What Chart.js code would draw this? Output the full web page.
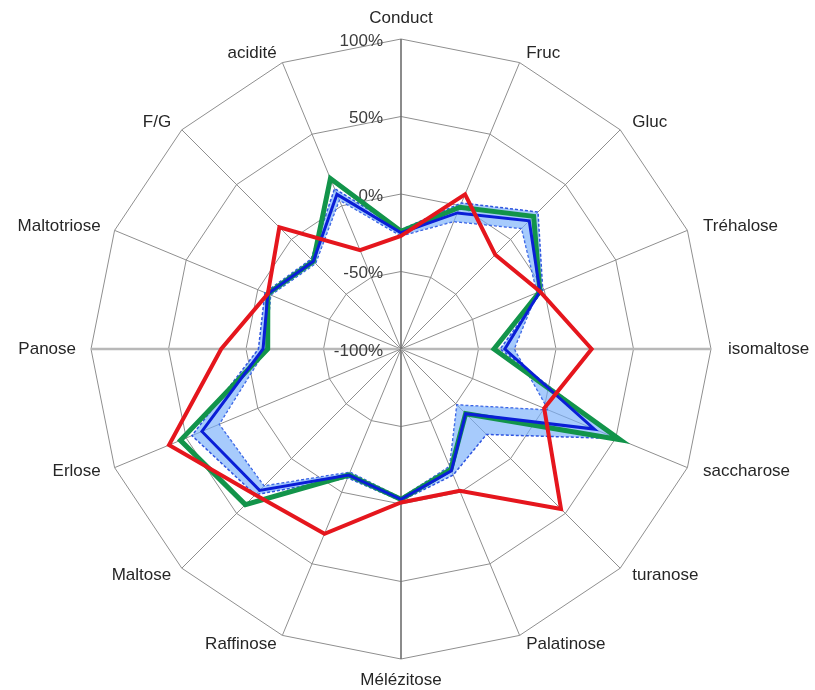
<!DOCTYPE html>
<html>
<head>
<meta charset="utf-8">
<script src="https://cdn.jsdelivr.net/npm/chart.js@4.4.1/dist/chart.umd.min.js"></script>
<style>
  html, body { margin: 0; padding: 0; background: #ffffff; }
  canvas { display: block; }
</style>
</head>
<body>
<canvas id="radar" width="815" height="690"></canvas>
<script>
// Axes of the profile, clockwise from the top
const categories = ['Conduct', 'Fruc', 'Gluc', 'Tréhalose', 'isomaltose', 'saccharose', 'turanose',
  'Palatinose', 'Mélézitose', 'Raffinose', 'Maltose', 'Erlose', 'Panose', 'Maltotriose', 'F/G', 'acidité'];

// Radial scale ticks (%)
const tickValues = [-100, -50, 0, 50, 100];

// Sample profile (red)
const sampleValues = [-27, 8, -14, -3, 23, 0, 46, -1, -1, 29, 33, 62, 16, -7, 11, -31];
// Reference profile (green)
const referenceValues = [-24, -1, 21, -3, -40, 53, -41, -16, -3, -12, 42, 54, -14, -7, -20, 19];
// Group mean (blue)
const meanValues = [-25, -5, 17, -3, -33, 35, -41, -15, -3, -12, 29, 39, -11, -7, -20, 8];
// Group spread: the two limit profiles framing the blue band
const limitAValues = [-23, 2, 25, -1, -36, 51, -22, -12, -2, -10, 33, 46, -8, -5, -18, 12];
const limitBValues = [-27, -11, 10, -5, -27, 3, -49, -18, -4, -14, 25, 27, -13, -9, -22, 4];

const LABEL_FONT = '17px "Liberation Sans", Arial, sans-serif';

// Draws the % tick labels left of the vertical axis and the axis names around the web
const radarText = {
  id: 'radarText',
  beforeDatasetsDraw(chart) {
    const scale = chart.scales.r;
    const ctx = chart.ctx;
    const R = scale.drawingArea;
    ctx.save();
    ctx.font = LABEL_FONT;

    // tick labels
    ctx.fillStyle = '#3c3c3c';
    ctx.textAlign = 'right';
    ctx.textBaseline = 'middle';
    tickValues.forEach(v => {
      const y = scale.yCenter - scale.getDistanceFromCenterForValue(v);
      ctx.fillText(v + '%', scale.xCenter - 18, y + 2);
    });

    // axis names
    ctx.fillStyle = '#262626';
    categories.forEach((name, i) => {
      const n = categories.length;
      if (i === 0 || i === n / 2) {
        const p = scale.getPointPosition(i, R + 21);
        ctx.textAlign = 'center';
        ctx.fillText(name, p.x, p.y);
        return;
      }
      const right = i < n / 2;
      const px = scale.getPointPosition(i, R + (right ? 17 : 15)).x;
      const py = scale.getPointPosition(i, R + 10).y;
      ctx.textAlign = right ? 'left' : 'right';
      ctx.fillText(name, px, py);
    });
    ctx.restore();
  }
};

const lineDataset = (label, data, color, width) => ({
  label, data,
  borderColor: color,
  borderWidth: width,
  backgroundColor: 'transparent',
  pointRadius: 0,
  pointHoverRadius: 0,
  fill: false,
  tension: 0
});

new Chart(document.getElementById('radar'), {
  type: 'radar',
  data: {
    labels: categories,
    datasets: [
      lineDataset('Échantillon', sampleValues, '#e5161d', 4),
      lineDataset('Moyenne', meanValues, '#0a1ed6', 3),
      lineDataset('Référence', referenceValues, '#12944a', 5),
      Object.assign(lineDataset('Limite A', limitAValues, '#2f55e0', 1.5), {
        borderDash: [3, 2],
        fill: '+1',
        backgroundColor: 'rgba(120, 175, 250, 0.65)'
      }),
      Object.assign(lineDataset('Limite B', limitBValues, '#2f55e0', 1.5), {
        borderDash: [3, 2]
      })
    ]
  },
  options: {
    responsive: false,
    animation: false,
    devicePixelRatio: 1,
    layout: { padding: { left: 91, right: 104, top: 39, bottom: 31 } },
    plugins: {
      legend: { display: false },
      tooltip: { enabled: false },
      title: { display: false }
    },
    scales: {
      r: {
        min: -100,
        max: 100,
        startAngle: 0,
        ticks: { display: false, stepSize: 50 },
        pointLabels: { display: false },
        grid: { color: '#8f8f8f', lineWidth: 1 },
        angleLines: {
          color: ctx => (ctx.index % 8 === 0 ? '#6e6e6e' : (ctx.index % 4 === 0 ? '#b8b8b8' : '#8f8f8f')),
          lineWidth: ctx => (ctx.index % 8 === 0 ? 1.6 : (ctx.index % 4 === 0 ? 2.5 : 1))
        }
      }
    }
  },
  plugins: [radarText]
});
</script>
</body>
</html>
